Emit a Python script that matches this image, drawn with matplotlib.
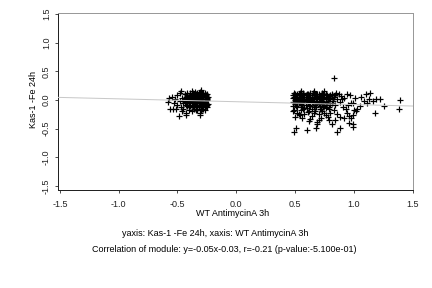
import matplotlib
matplotlib.use("Agg")
import matplotlib.pyplot as plt

plt.rcParams["font.family"] = ["Liberation Sans", "DejaVu Sans"]

# module 1 (left group)
x1 = [-0.44, -0.42, -0.40, -0.39, -0.37, -0.36, -0.35, -0.34, -0.33, -0.32,
      -0.31, -0.30, -0.29, -0.28, -0.27, -0.26, -0.25, -0.26, -0.28, -0.30,
      -0.32, -0.34, -0.36, -0.38, -0.41, -0.43, -0.45, -0.39, -0.35, -0.31,
      -0.27, -0.25, -0.29, -0.33, -0.37, -0.40, -0.42, -0.38, -0.34, -0.30,
      -0.26, -0.28, -0.32, -0.36, -0.29, -0.27, -0.31, -0.35, -0.33, -0.25,
      -0.26, -0.30, -0.34, -0.38, -0.41, -0.44, -0.39, -0.37, -0.28, -0.32,
      -0.27, -0.29, -0.31, -0.25, -0.33, -0.36, -0.40, -0.43, -0.46, -0.48,
      -0.47, -0.30, -0.55, -0.58, -0.56, -0.54, -0.49, -0.46, -0.43, -0.43,
      -0.31, -0.31, -0.52, -0.50, -0.53, -0.50, -0.48, -0.38, -0.35, -0.40,
      -0.47, -0.51, -0.44, -0.27, -0.38, -0.34, -0.57, -0.42, -0.29, -0.45,
      -0.42, -0.40, -0.38, -0.36, -0.34, -0.32, -0.30, -0.28, -0.26, -0.24,
      -0.43, -0.41, -0.39, -0.37, -0.35, -0.33, -0.31, -0.29, -0.27, -0.25,
      -0.42, -0.40, -0.38, -0.36, -0.34, -0.32, -0.30, -0.28, -0.26, -0.24,
      -0.39, -0.37, -0.35, -0.33, -0.31, -0.29, -0.27, -0.25,
      -0.36, -0.33, -0.30, -0.28]
y1 = [0.02, -0.05, 0.06, -0.10, 0.01, 0.09, -0.07, 0.04, -0.12, 0.08,
      -0.02, 0.11, -0.09, 0.05, -0.04, 0.02, -0.08, 0.09, -0.13, 0.03,
      -0.06, 0.10, -0.03, 0.07, -0.01, 0.05, -0.06, 0.03, 0.00, 0.06,
      0.08, 0.04, 0.01, -0.01, -0.06, -0.08, 0.08, 0.11, -0.09, -0.11,
      -0.11, 0.12, 0.13, 0.05, -0.05, -0.01, -0.08, 0.07, 0.03, 0.00,
      -0.05, -0.03, -0.04, -0.02, 0.03, -0.03, 0.09, -0.13, -0.07, 0.00,
      0.11, 0.09, 0.12, -0.13, -0.15, -0.10, 0.00, -0.09, 0.04, -0.02,
      0.16, 0.17, 0.06, -0.03, -0.15, -0.16, -0.28, -0.19, -0.23, -0.27,
      -0.23, -0.27, 0.02, -0.08, -0.06, 0.09, 0.12, 0.15, 0.14, -0.17,
      -0.12, -0.15, 0.10, -0.18, -0.20, -0.18, 0.03, 0.13, -0.15, -0.15,
      0.07, 0.05, 0.08, 0.06, 0.07, 0.05, 0.08, 0.06, 0.07, 0.05,
      -0.02, 0.00, -0.03, -0.01, -0.02, 0.01, -0.03, -0.01, -0.02, 0.01,
      -0.10, -0.12, -0.09, -0.11, -0.10, -0.13, -0.09, -0.11, -0.10, -0.07,
      0.12, 0.13, 0.11, 0.12, 0.14, 0.13, 0.12, 0.10,
      -0.16, -0.18, -0.17, -0.16]

# module 2 (right group)
x2 = [0.49, 0.53, 0.57, 0.61, 0.65, 0.69, 0.73, 0.77, 0.81, 0.50,
      0.55, 0.59, 0.63, 0.67, 0.71, 0.75, 0.79, 0.83, 0.52, 0.56,
      0.60, 0.64, 0.68, 0.72, 0.76, 0.80, 0.48, 0.51, 0.54, 0.58,
      0.62, 0.66, 0.70, 0.74, 0.78, 0.82, 0.49, 0.53, 0.57, 0.61,
      0.65, 0.69, 0.73, 0.77, 0.81, 0.50, 0.55, 0.59, 0.63, 0.67,
      0.71, 0.75, 0.79, 0.48, 0.52, 0.56, 0.60, 0.64, 0.68, 0.72,
      0.76, 0.84, 0.86, 0.88, 0.84, 0.50, 0.54, 0.58, 0.62, 0.66,
      0.70, 0.74, 0.78, 0.52, 0.56, 0.60, 0.64, 0.68, 0.72, 0.76,
      0.51, 0.57, 0.61, 0.66, 0.70, 0.74, 0.80, 0.49, 0.53, 0.63,
      0.49, 0.51, 0.60, 0.68, 0.86, 0.88, 0.99, 0.96, 0.81, 0.79,
      0.69, 0.69, 0.62, 1.14, 1.13, 1.09, 1.19, 1.22, 1.26, 1.18,
      1.39, 1.38, 0.97, 0.94, 1.05, 1.03, 0.99, 0.96, 0.92, 0.98,
      0.99, 0.85, 0.90, 0.83, 0.88, 0.94, 1.00, 1.02, 0.98, 0.99,
      0.48, 0.52, 0.55, 0.58, 0.61, 0.64, 0.67, 0.70, 0.73, 0.76,
      0.80, 0.83, 0.86, 0.50, 0.56, 0.63, 0.72, 0.78, 0.91, 0.95,
      0.89, 0.92, 1.01, 1.06, 1.10, 1.16, 0.93, 0.87, 0.55, 0.66,
      0.75, 0.70, 0.54, 0.84, 1.11,
      0.51, 0.55, 0.59, 0.63, 0.67, 0.71, 0.75, 0.79, 0.54, 0.58,
      0.62, 0.66, 0.70, 0.74, 0.78, 0.50, 0.57, 0.65, 0.73, 0.81,
      0.48, 0.52, 0.56, 0.60, 0.64, 0.68, 0.72, 0.76, 0.80,
      0.50, 0.54, 0.58, 0.62, 0.66, 0.70, 0.74, 0.78, 0.82,
      0.48, 0.52, 0.56, 0.60, 0.64, 0.68, 0.72, 0.76,
      0.49, 0.53, 0.58, 0.62, 0.66, 0.71, 0.75, 0.79]
y2 = [0.12, 0.10, 0.13, 0.11, 0.12, 0.10, 0.12, 0.09, 0.11, 0.08,
      0.07, 0.09, 0.06, 0.08, 0.07, 0.05, 0.07, 0.05, 0.05, 0.03,
      0.05, 0.02, 0.04, 0.02, 0.01, 0.03, 0.03, 0.00, 0.01, -0.01,
      0.00, -0.02, -0.01, -0.03, -0.02, -0.01, -0.03, -0.04, -0.05, -0.03,
      -0.06, -0.04, -0.07, -0.05, -0.06, -0.07, -0.09, -0.08, -0.10, -0.09,
      -0.11, -0.10, -0.12, -0.11, -0.13, -0.12, -0.14, -0.15, -0.13, -0.16,
      -0.14, -0.09, 0.02, -0.04, 0.08, 0.10, 0.12, 0.06, 0.09, 0.05,
      0.11, 0.08, 0.04, 0.02, -0.02, 0.02, -0.01, 0.01, -0.04, -0.08,
      -0.10, -0.15, -0.06, -0.12, -0.07, -0.12, -0.09, 0.06, 0.08, 0.12,
      -0.55, -0.49, -0.52, -0.49, -0.55, -0.48, -0.47, -0.40, -0.41, -0.35,
      -0.42, -0.38, -0.37, 0.13, 0.01, -0.02, 0.01, 0.02, -0.10, -0.23,
      0.00, -0.15, 0.09, 0.10, -0.10, -0.15, -0.26, -0.28, -0.31, -0.05,
      -0.06, 0.12, 0.01, 0.38, -0.29, -0.23, -0.18, -0.20, -0.32, -0.42,
      -0.20, -0.22, -0.18, -0.25, -0.21, -0.28, -0.19, -0.24, -0.20, -0.27,
      -0.22, -0.18, -0.25, -0.30, -0.32, -0.33, -0.31, -0.29, -0.12, -0.08,
      0.07, 0.04, 0.03, 0.06, 0.10, -0.02, -0.15, 0.10, 0.15, 0.16,
      0.15, -0.35, -0.27, -0.34, -0.06,
      0.04, 0.11, 0.02, 0.04, 0.10, 0.03, 0.09, 0.01, -0.06, 0.08,
      -0.08, 0.06, 0.05, 0.10, 0.06, 0.00, 0.00, -0.03, -0.01, 0.08,
      0.09, 0.10, 0.08, 0.10, 0.09, 0.11, 0.08, 0.10, 0.09,
      0.03, 0.04, 0.02, 0.04, 0.03, 0.02, 0.04, 0.03, 0.02,
      -0.03, -0.02, -0.04, -0.02, -0.03, -0.05, -0.02, -0.04,
      -0.17, -0.24, -0.14, -0.19, -0.23, -0.16, -0.22, -0.15]

slope = -0.05
intercept = -0.03
ticks = [-1.5, -1.0, -0.5, 0.0, 0.5, 1.0, 1.5]

fig = plt.figure(figsize=(6, 4), dpi=72)
ax = fig.add_axes([0.134, 0.341, 0.822, 0.614])

ax.plot(x1 + x2, y1 + y2, linestyle="none", marker="+", color="black",
        markersize=5.5, markeredgewidth=1.2)
line_x = [-1.52, 1.51]
ax.plot(line_x, [slope * v + intercept for v in line_x], color="#c8c8c8",
        linewidth=1, zorder=3)

ax.set_xlim(-1.517, 1.503)
ax.set_ylim(-1.565, 1.517)
ax.set_xticks(ticks)
ax.set_yticks(ticks)
ax.set_xticklabels([f"{t:.1f}" for t in ticks])
ax.set_yticklabels([f"{t:.1f}" for t in ticks], rotation=90, va="center")
ax.tick_params(direction="out", length=3, width=0.8, labelsize=9,
               colors="#222222", pad=4)
ax.tick_params(axis="x", pad=7)
for s in ["left", "bottom"]:
    ax.spines[s].set_color("#222222")
    ax.spines[s].set_linewidth(1.0)
for s in ["top", "right"]:
    ax.spines[s].set_color("#999999")
    ax.spines[s].set_linewidth(1.0)

fig.text(33 / 432, 1 - 100 / 288, "Kas-1 -Fe 24h", rotation=90,
         ha="center", va="center", fontsize=9)
fig.text(233 / 432, 1 - 214 / 288, "WT AntimycinA 3h",
         ha="center", va="center", fontsize=9)
fig.text(215 / 432, 1 - 233 / 288,
         "yaxis: Kas-1 -Fe 24h, xaxis: WT AntimycinA 3h",
         ha="center", va="center", fontsize=9)
fig.text(224 / 432, 1 - 250 / 288,
         "Correlation of module: y=-0.05x-0.03, r=-0.21 (p-value:-5.100e-01)",
         ha="center", va="center", fontsize=9)

fig.savefig("out.png", dpi=72)
